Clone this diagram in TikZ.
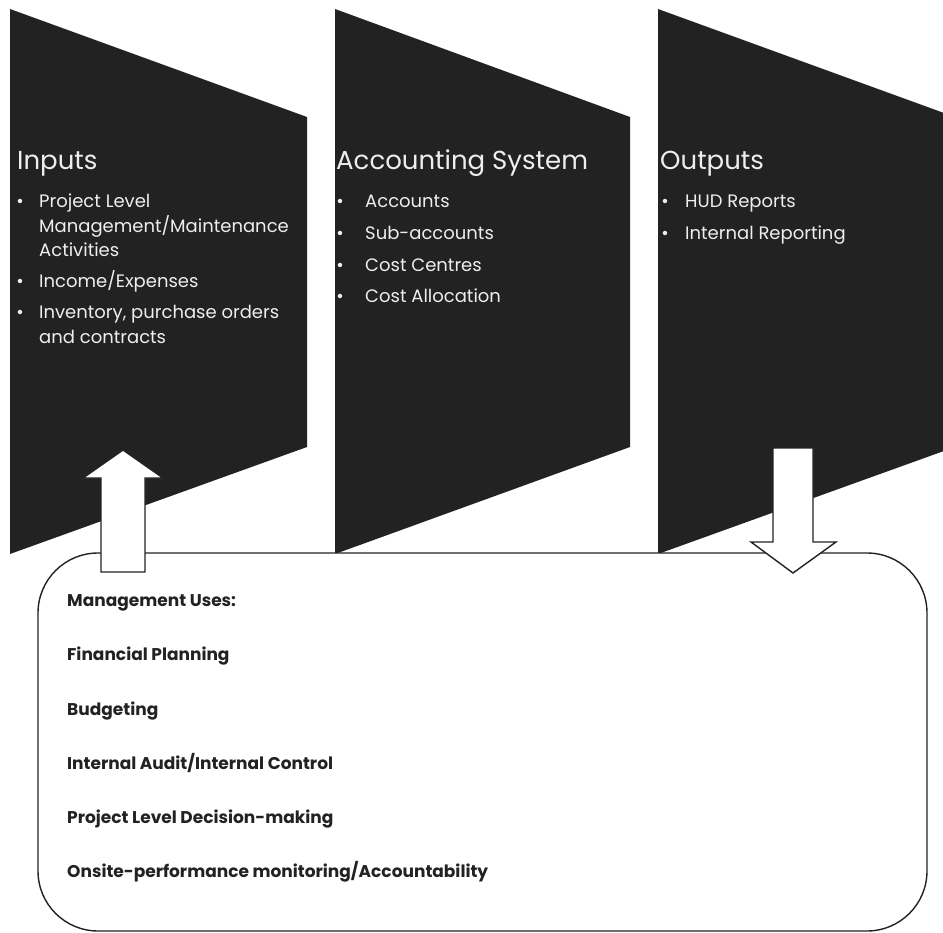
\documentclass[tikz,border=0pt]{standalone}
\usepackage{fontspec}
\setmainfont{Poppins}
\definecolor{panel}{HTML}{222222}
\definecolor{paneltext}{HTML}{EEEEEE}
\tikzset{
  panel/.style={fill=panel},
  head/.style={anchor=base west, text=paneltext, inner sep=0pt, font=\fontsize{26}{30}\selectfont},
  item/.style={anchor=base west, text=paneltext, inner sep=0pt, font=\fontsize{18}{21}\selectfont},
  dot/.style={anchor=base, text=paneltext, inner sep=0pt, font=\fontsize{18}{21}\selectfont},
  use/.style={anchor=base west, text=panel, inner sep=0pt, font=\bfseries\fontsize{17}{20}\selectfont},
  blockarrow/.style={fill=white, draw=panel, line width=1.4pt, line join=miter},
  usebox/.style={draw=panel, fill=white, line width=1.4pt, rounded corners=60pt}
}
\begin{document}
\begin{tikzpicture}[x=1pt, y=-1pt]
\useasboundingbox (0,0) rectangle (943,933);
\clip (0,0) rectangle (943,933);

% three slanted panels
\fill[panel] (10,9) -- (307,117) -- (307,447) -- (10,554) -- cycle;
\fill[panel] (335,9) -- (630,117) -- (630,447) -- (335,554) -- cycle;
\fill[panel] (658,9) -- (955,117) -- (955,447) -- (658,554) -- cycle;

% management uses box
\draw[usebox] (38,553) rectangle (927,931);

% block arrows
\draw[blockarrow] (101,572) -- (101,478) -- (83,478) -- (123,450) -- (163,478)
  -- (145,478) -- (145,572) -- cycle;
\draw[blockarrow] (773,448) -- (813,448) -- (813,542) -- (836,542) -- (793,573)
  -- (751,542) -- (773,542) -- cycle;

% Inputs
\node[head] (inH) at (17,170) {Inputs};
\node[dot] (inD1) at (20,208) {•};
\node[item] (in1a) at (39,208) {Project Level};
\node[item] (in1b) at (39,233) {Management/Maintenance};
\node[item] (in1c) at (39,257) {Activities};
\node[dot] (inD2) at (20,288) {•};
\node[item] (in2) at (39,288) {Income/Expenses};
\node[dot] (inD3) at (20,319) {•};
\node[item] (in3a) at (39,319) {Inventory, purchase orders};
\node[item] (in3b) at (39,344) {and contracts};

% Accounting System
\node[head] (acH) at (336,170) {Accounting System};
\node[dot] (acD1) at (340,208) {•};
\node[item] (ac1) at (365,208) {Accounts};
\node[dot] (acD2) at (340,240) {•};
\node[item] (ac2) at (365,240) {Sub-accounts};
\node[dot] (acD3) at (340,272) {•};
\node[item] (ac3) at (365,272) {Cost Centres};
\node[dot] (acD4) at (340,303) {•};
\node[item] (ac4) at (365,303) {Cost Allocation};

% Outputs
\node[head] (outH) at (660,170) {Outputs};
\node[dot] (outD1) at (665,208) {•};
\node[item] (out1) at (685,208) {HUD Reports};
\node[dot] (outD2) at (665,240) {•};
\node[item] (out2) at (685,240) {Internal Reporting};

% Management uses
\node[use] (mu0) at (67,606) {Management Uses:};
\node[use] (mu1) at (67,660) {Financial Planning};
\node[use] (mu2) at (67,715) {Budgeting};
\node[use] (mu3) at (67,769) {Internal Audit/Internal Control};
\node[use] (mu4) at (67,823) {Project Level Decision-making};
\node[use] (mu5) at (67,877) {Onsite-performance monitoring/Accountability};
\end{tikzpicture}
\end{document}
